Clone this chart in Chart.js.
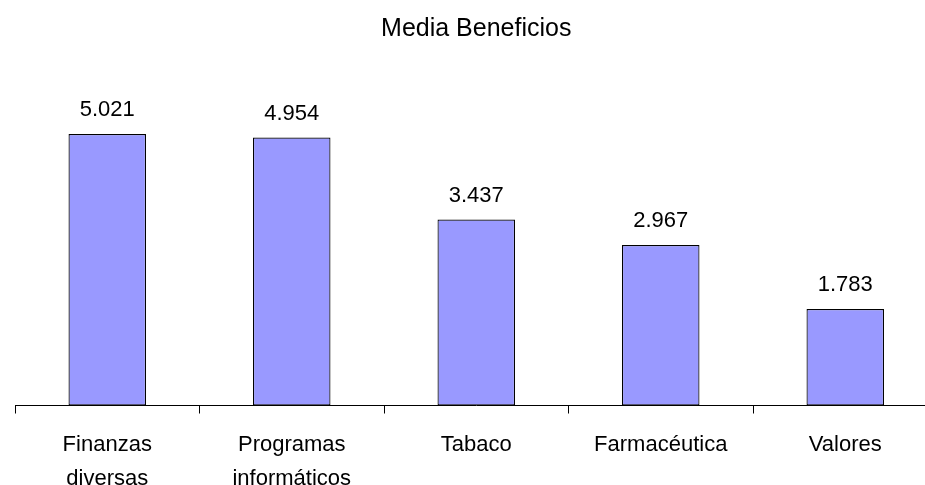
<!DOCTYPE html>
<html>
<head>
<meta charset="utf-8">
<script src="https://cdn.jsdelivr.net/npm/chart.js@4"></script>
<style>
  html, body { margin: 0; padding: 0; background: #fff; overflow: hidden; }
  #wrap { width: 925px; height: 485px; overflow: hidden; }
</style>
</head>
<body>
<div id="wrap"><canvas id="chart" width="945" height="514"></canvas></div>
<script>
const categories = [['Finanzas', 'diversas'], ['Programas', 'informáticos'], 'Tabaco', 'Farmacéutica', 'Valores'];
const mediaBeneficios = [5.021, 4.954, 3.437, 2.967, 1.783];

// draws the value above each bar
const valueLabels = {
    id: 'valueLabels',
    afterDatasetsDraw(chart) {
        const ctx = chart.ctx;
        const meta = chart.getDatasetMeta(0);
        ctx.save();
        ctx.fillStyle = '#000';
        ctx.font = '22px "Liberation Sans", Arial, sans-serif';
        ctx.textAlign = 'center';
        ctx.textBaseline = 'middle';
        meta.data.forEach(function(bar, i) {
            ctx.fillText(mediaBeneficios[i].toFixed(3), bar.x, bar.y - 24);
        });
        ctx.restore();
    }
};

Chart.defaults.font.family = '"Liberation Sans", Arial, sans-serif';
Chart.defaults.color = '#000';

new Chart(document.getElementById('chart'), {
    type: 'bar',
    data: {
        labels: categories,
        datasets: [{
            label: 'Media Beneficios',
            data: mediaBeneficios,
            backgroundColor: '#9999FF',
            borderColor: '#000',
            borderWidth: 1.2,
            borderSkipped: false,
            categoryPercentage: 1,
            barPercentage: 0.42
        }]
    },
    options: {
        responsive: false,
        animation: false,
        layout: { padding: { left: 15, right: 7.5, top: 0, bottom: 4.3 } },
        plugins: {
            legend: { display: false },
            tooltip: { enabled: false },
            title: {
                display: true,
                text: 'Media Beneficios',
                font: { size: 25, weight: 'normal' },
                color: '#000',
                padding: { top: 14, bottom: 37 }
            }
        },
        scales: {
            x: {
                grid: { drawOnChartArea: false, drawTicks: true, tickLength: 8, color: '#000', offset: true },
                border: { display: true, color: '#000', width: 1 },
                ticks: { font: { size: 22, lineHeight: 1.55 }, padding: 14, maxRotation: 0, autoSkip: false, color: '#000' }
            },
            y: {
                display: false,
                min: 0,
                max: 6
            }
        }
    },
    plugins: [valueLabels]
});
</script>
</body>
</html>
